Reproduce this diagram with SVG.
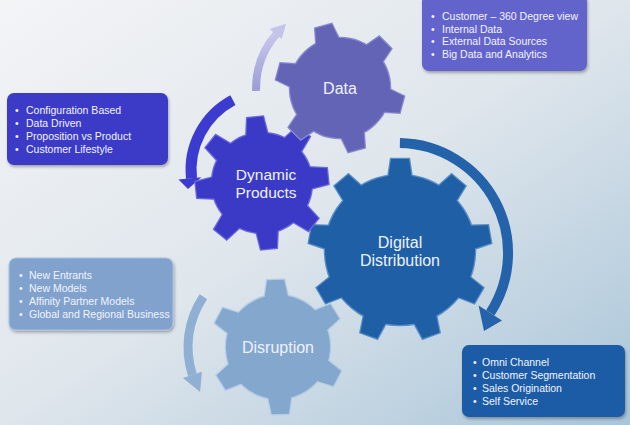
<svg xmlns="http://www.w3.org/2000/svg" xmlns:xlink="http://www.w3.org/1999/xlink" width="630" height="425" viewBox="0 0 630 425">
<defs>
<linearGradient id="bg" x1="0" y1="0" x2="1" y2="1">
<stop offset="0" stop-color="#f3f4f6"/>
<stop offset="0.5" stop-color="#dfe6ec"/>
<stop offset="1" stop-color="#a9c5d9"/>
</linearGradient>
<linearGradient id="gArrowData" x1="0" y1="1" x2="0" y2="0">
<stop offset="0" stop-color="#9c9cd6"/>
<stop offset="1" stop-color="#c8c8ec"/>
</linearGradient>
<filter id="sh" x="-10%" y="-10%" width="120%" height="130%">
<feDropShadow dx="1" dy="2" stdDeviation="1.5" flood-color="#000" flood-opacity="0.3"/>
</filter>
<g id="gearData">
<circle r="50"/>
<polygon id="tData" points="-12,-46 -8.5,-64 8.5,-64 12,-46" transform="rotate(-15)"/>
<use xlink:href="#tData" transform="rotate(60)"/>
<use xlink:href="#tData" transform="rotate(120)"/>
<use xlink:href="#tData" transform="rotate(180)"/>
<use xlink:href="#tData" transform="rotate(240)"/>
<use xlink:href="#tData" transform="rotate(300)"/>
</g>
<g id="gearDyn">
<circle r="50"/>
<polygon id="tDyn" points="-11,-46 -8,-66 8,-66 11,-46" transform="rotate(-6)"/>
<use xlink:href="#tDyn" transform="rotate(45)"/>
<use xlink:href="#tDyn" transform="rotate(90)"/>
<use xlink:href="#tDyn" transform="rotate(135)"/>
<use xlink:href="#tDyn" transform="rotate(180)"/>
<use xlink:href="#tDyn" transform="rotate(225)"/>
<use xlink:href="#tDyn" transform="rotate(270)"/>
<use xlink:href="#tDyn" transform="rotate(315)"/>
</g>
<g id="gearDig">
<circle r="75"/>
<polygon id="tDig" points="-12,-71 -9,-91 9,-91 12,-71"/>
<use xlink:href="#tDig" transform="rotate(40)"/>
<use xlink:href="#tDig" transform="rotate(80)"/>
<use xlink:href="#tDig" transform="rotate(120)"/>
<use xlink:href="#tDig" transform="rotate(160)"/>
<use xlink:href="#tDig" transform="rotate(200)"/>
<use xlink:href="#tDig" transform="rotate(240)"/>
<use xlink:href="#tDig" transform="rotate(280)"/>
<use xlink:href="#tDig" transform="rotate(320)"/>
</g>
<g id="gearDis">
<circle r="52"/>
<polygon id="tDis" points="-12,-48 -8.5,-67 8.5,-67 12,-48" transform="rotate(-2)"/>
<use xlink:href="#tDis" transform="rotate(60)"/>
<use xlink:href="#tDis" transform="rotate(120)"/>
<use xlink:href="#tDis" transform="rotate(180)"/>
<use xlink:href="#tDis" transform="rotate(240)"/>
<use xlink:href="#tDis" transform="rotate(300)"/>
</g>
</defs>
<style>
.gtxt{font-family:"Liberation Sans",Arial,sans-serif;fill:#eef2ff;text-anchor:middle}
.btxt{font-family:"Liberation Sans",Arial,sans-serif;font-size:10.5px;fill:#f2f4ff}
.box{filter:url(#sh)}
.rim{stroke-width:2.5}
</style>
<rect width="630" height="425" fill="url(#bg)"/>

<g id="connectors">
<path d="M256.1,90.9 A84,84 0 0 1 277.1,33.2" fill="none" stroke="url(#gArrowData)" stroke-width="8"/>
<polygon points="281.8,39.1 269.5,28.9 286,23.7" fill="#c4c4ea"/>
<path d="M232.9,100.2 A79,79 0 0 0 191.5,178.3" fill="none" stroke="#3b3bd0" stroke-width="11"/>
<polygon points="201.4,177.2 178.5,179.6 188,189" fill="#3b3bd0"/>
<path d="M399.9,143 A110,110 0 0 1 490.3,312.9" fill="none" stroke="#2463aa" stroke-width="10"/>
<polygon points="478.6,305.4 502,320.4 484,331" fill="#2463aa"/>
<path d="M203.4,296.7 A90,90 0 0 0 192.4,374.8" fill="none" stroke="#8fb0d2" stroke-width="9"/>
<polygon points="201.9,371.7 182.9,377.9 200.1,392" fill="#8fb0d2"/>
</g>

<g id="node-digital">
<use xlink:href="#gearDig" x="400" y="250" fill="#5b8fc6" stroke="#5b8fc6" class="rim"/>
<use xlink:href="#gearDig" x="400" y="250" fill="#1f5fa6"/>
<text class="gtxt" x="400" y="248" font-size="16">Digital</text>
<text class="gtxt" x="400" y="266" font-size="16">Distribution</text>
</g>

<g id="node-dynamic">
<use xlink:href="#gearDyn" x="262" y="183" fill="#6a6ae0" stroke="#6a6ae0" class="rim"/>
<use xlink:href="#gearDyn" x="262" y="183" fill="#3a3ac6"/>
<text class="gtxt" x="266" y="180" font-size="15.5">Dynamic</text>
<text class="gtxt" x="266" y="198" font-size="15.5">Products</text>
</g>

<g id="node-data">
<use xlink:href="#gearData" x="340" y="88" fill="#8a8ad0" stroke="#8a8ad0" class="rim"/>
<use xlink:href="#gearData" x="340" y="88" fill="#6464b6"/>
<text class="gtxt" x="340" y="94" font-size="16">Data</text>
</g>

<g id="node-disruption">
<use xlink:href="#gearDis" x="278" y="347" fill="#b4cde6" stroke="#b4cde6" class="rim"/>
<use xlink:href="#gearDis" x="278" y="347" fill="#84a7cd"/>
<text class="gtxt" x="278" y="353" font-size="16">Disruption</text>
</g>

<g id="box-data">
<rect class="box" x="422" y="-6" width="165" height="77" rx="7" fill="#6464cc"/>
<text class="btxt" x="431" y="20">•</text><text class="btxt" x="442" y="20">Customer – 360 Degree view</text>
<text class="btxt" x="431" y="32.7">•</text><text class="btxt" x="442" y="32.7">Internal Data</text>
<text class="btxt" x="431" y="45.3">•</text><text class="btxt" x="442" y="45.3">External Data Sources</text>
<text class="btxt" x="431" y="58">•</text><text class="btxt" x="442" y="58">Big Data and Analytics</text>
</g>

<g id="box-dynamic">
<rect class="box" x="7" y="93" width="161" height="72" rx="7" fill="#3a3ac8"/>
<text class="btxt" x="15" y="113.5">•</text><text class="btxt" x="26" y="113.5">Configuration Based</text>
<text class="btxt" x="15" y="126.5">•</text><text class="btxt" x="26" y="126.5">Data Driven</text>
<text class="btxt" x="15" y="139.5">•</text><text class="btxt" x="26" y="139.5">Proposition vs Product</text>
<text class="btxt" x="15" y="152.5">•</text><text class="btxt" x="26" y="152.5">Customer Lifestyle</text>
</g>

<g id="box-disruption">
<rect class="box" x="9" y="258" width="164" height="72" rx="7" fill="#80a2cc" stroke="#a9c2e0" stroke-width="1"/>
<text class="btxt" x="19" y="278.5">•</text><text class="btxt" x="29" y="278.5">New Entrants</text>
<text class="btxt" x="19" y="291.5">•</text><text class="btxt" x="29" y="291.5">New Models</text>
<text class="btxt" x="19" y="304.5">•</text><text class="btxt" x="29" y="304.5">Affinity Partner Models</text>
<text class="btxt" x="19" y="317.5">•</text><text class="btxt" x="29" y="317.5">Global and Regional Business</text>
</g>

<g id="box-digital">
<rect class="box" x="462" y="345" width="163" height="72" rx="7" fill="#1f5ca6"/>
<text class="btxt" x="473" y="366">•</text><text class="btxt" x="482" y="366">Omni Channel</text>
<text class="btxt" x="473" y="379">•</text><text class="btxt" x="482" y="379">Customer Segmentation</text>
<text class="btxt" x="473" y="392">•</text><text class="btxt" x="482" y="392">Sales Origination</text>
<text class="btxt" x="473" y="405">•</text><text class="btxt" x="482" y="405">Self Service</text>
</g>
</svg>
